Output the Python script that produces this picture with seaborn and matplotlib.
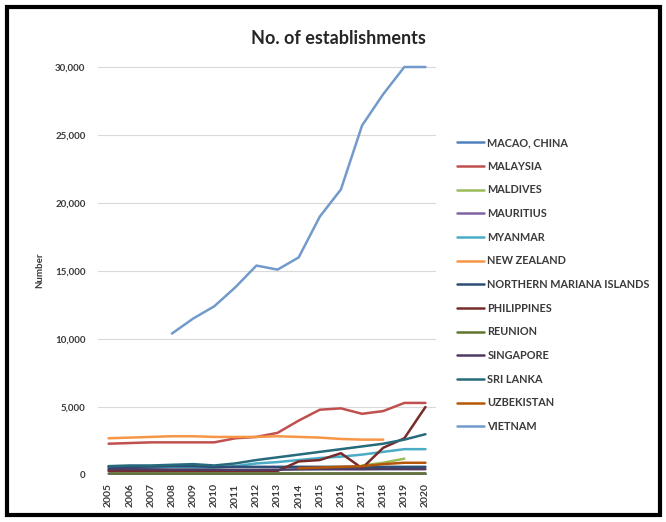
import numpy as np
import pandas as pd
import matplotlib
matplotlib.use("Agg")
import matplotlib.pyplot as plt
from matplotlib.patches import Rectangle
from matplotlib.lines import Line2D
import seaborn as sns

nan = np.nan
years = list(range(2005, 2021))

macao = [110, 110, 110, 110, 110, 110, 110, 110, 110, 110, 110, 110, 110, 110, 110, 110]
malaysia = [2300, 2350, 2400, 2400, 2400, 2400, 2700, 2800, 3100, 4000, 4800, 4900, 4500, 4700, 5300, 5300]
maldives = [nan, nan, nan, nan, nan, nan, nan, nan, nan, nan, nan, nan, 700, 900, 1200, nan]
mauritius = [100, 100, 100, 100, 100, 100, 100, 100, 100, 100, 100, 110, 110, 110, 110, 110]
myanmar = [500, 500, 550, 600, 550, 550, 650, 850, 950, 1100, 1250, 1350, 1500, 1700, 1900, 1900]
new_zealand = [2700, 2750, 2800, 2850, 2850, 2800, 2800, 2800, 2850, 2800, 2750, 2650, 2600, 2600, nan, nan]
n_mariana = [600, 600, 620, 650, 650, 600, 600, 600, 600, 600, 600, 600, 600, 600, 600, 600]
philippines = [300, 300, 300, 300, 300, 300, 300, 300, 300, 1000, 1100, 1600, 500, 2000, 2700, 5000]
reunion = [150, 150, 150, 150, 150, 150, 150, 150, 150, 150, 150, 150, 150, 150, 150, 150]
singapore = [420, 420, 410, 400, 390, 390, 380, 380, 390, 410, 420, 420, 420, 430, 430, 430]
sri_lanka = [650, 700, 700, 750, 800, 700, 850, 1100, 1300, 1500, 1700, 1900, 2100, 2300, 2600, 3000]
uzbekistan = [nan, nan, nan, nan, nan, nan, nan, nan, nan, 500, 550, 600, 650, 800, 900, 900]
vietnam = [nan, nan, nan, 10400, 11500, 12400, 13800, 15400, 15100, 16000, 19000, 21000, 25700, 28000, 30000, 30000]

names = ["MACAO, CHINA", "MALAYSIA", "MALDIVES", "MAURITIUS", "MYANMAR", "NEW ZEALAND",
         "NORTHERN MARIANA ISLANDS", "PHILIPPINES", "REUNION", "SINGAPORE", "SRI LANKA",
         "UZBEKISTAN", "VIETNAM"]
series = [macao, malaysia, maldives, mauritius, myanmar, new_zealand, n_mariana,
          philippines, reunion, singapore, sri_lanka, uzbekistan, vietnam]
colors = ["#4F81BD", "#C0504D", "#9BBB59", "#8064A2", "#4BACC6", "#F79646",
          "#2C4D75", "#772C2A", "#5F7530", "#4D3B62", "#276A7C", "#B65708", "#729ACA"]
yticks = [0, 5000, 10000, 15000, 20000, 25000, 30000]

rows = []
for n, s in zip(names, series):
    for y, v in zip(years, s):
        rows.append({"Year": y, "Number": v, "Country": n})
df = pd.DataFrame(rows).dropna()

sns.set_style("white")
plt.rcParams['font.family'] = ['Lato', 'DejaVu Sans']

fig = plt.figure(figsize=(6.66, 5.22), dpi=100)
ax = fig.add_axes([98/666, 1-475/522, (436-98)/666, (475-63)/522])

palette = dict(zip(names, colors))
sns.lineplot(data=df, x="Year", y="Number", hue="Country", hue_order=names,
             palette=palette, linewidth=1.8, ax=ax, legend=False, sort=True)

ax.set_xlim(2004.5, 2020.5)
ax.set_ylim(0, 30000 * 412 / 408)
ax.set_yticks(yticks)
ax.set_yticklabels([f"{v:,}" for v in yticks], fontsize=7, fontweight="bold", color="#3a3a3a")
ax.set_xticks(years)
ax.set_xticklabels([str(y) for y in years], rotation=90, fontsize=7.5,
                   fontweight="bold", color="#3a3a3a")
ax.tick_params(axis='y', length=0, pad=9)
ax.tick_params(axis='x', length=0, pad=6)
ax.yaxis.grid(True, color="#d9d9d9", linewidth=0.8)
ax.set_axisbelow(True)
for sp in ax.spines.values():
    sp.set_visible(False)
ax.set_xlabel("")
ax.set_ylabel("")
fig.text(40/666, 1-270/522, "Number", rotation=90, ha="center", va="center",
         fontsize=7, fontweight="bold", color="#3a3a3a")

fig.text(338/666, 1-38/522, "No. of establishments", ha="center", va="center",
         fontsize=13, fontweight="bold", color="#262626")

handles = [Line2D([0], [0], color=c, lw=1.8) for c in colors]
fig.legend(handles, names, loc="upper left", bbox_to_anchor=(457/666, 1-137/522),
           frameon=False, prop={'size': 7.8, 'weight': 'bold'}, handlelength=2.5,
           handletextpad=0.3, labelspacing=1.17, borderpad=0, borderaxespad=0,
           labelcolor="#3a3a3a")

fig.patches.append(Rectangle((7/666, 7/522), 653/666, 508/522, transform=fig.transFigure,
                             fill=False, edgecolor="black", linewidth=3))

fig.savefig("out.png", dpi=100)
